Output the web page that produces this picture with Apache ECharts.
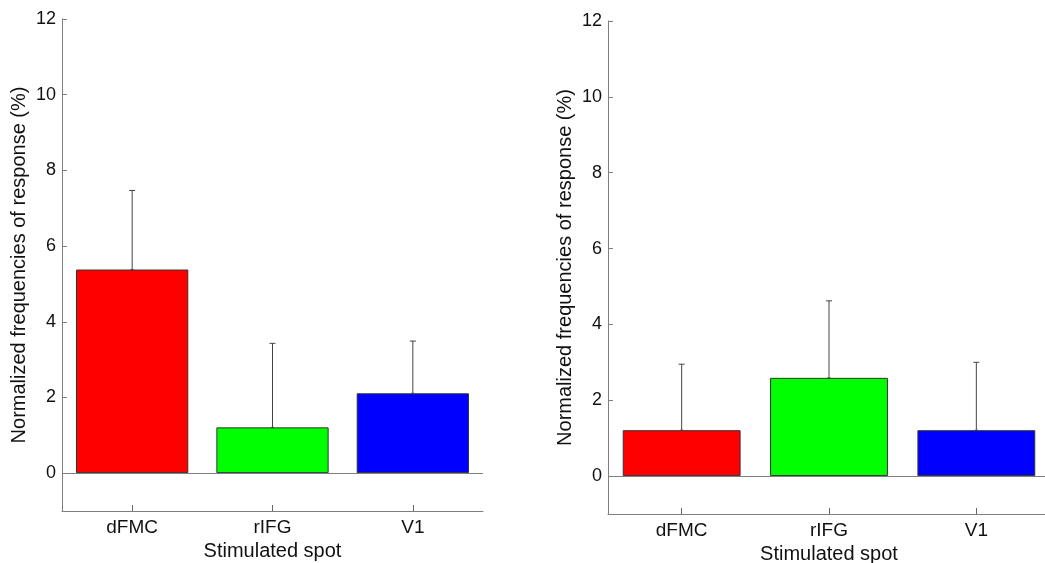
<!DOCTYPE html>
<html>
<head>
<meta charset="utf-8">
<script src="https://cdn.jsdelivr.net/npm/echarts@6/dist/echarts.min.js"></script>
<style>html,body{margin:0;padding:0;background:#fff}#c{width:1045px;height:563px}</style>
</head>
<body>
<div id="c"></div>
<script>
var categories = ['dFMC', 'rIFG', 'V1'];
var barColors = ['#ff0000', '#00ff00', '#0000ff'];
var leftMeans = [5.38, 1.21, 2.11];
var leftErrors = [2.09, 2.22, 1.38];
var rightMeans = [1.21, 2.59, 1.21];
var rightErrors = [1.74, 2.03, 1.79];
var yTicks = [0, 2, 4, 6, 8, 10, 12];
var yMin = -1, yMax = 12;
var xName = 'Stimulated spot';
var yName = 'Normalized frequencies of response (%)';

var FONT = 'Liberation Sans, Arial, sans-serif';
var AXIS_COLOR = '#7f7f7f';

function barData(means) {
  return means.map(function (v, i) {
    return { value: v, itemStyle: { color: barColors[i] } };
  });
}
function errData(means, errs) {
  return means.map(function (v, i) { return [i, v, v + errs[i]]; });
}
function errRender(params, api) {
  var i = api.value(0);
  var p0 = api.coord([i, api.value(1)]);
  var p1 = api.coord([i, api.value(2)]);
  var hw = 3;
  return {
    type: 'group',
    children: [
      { type: 'line', shape: { x1: p0[0], y1: p0[1], x2: p1[0], y2: p1[1] }, style: { stroke: '#444', lineWidth: 1 } },
      { type: 'line', shape: { x1: p1[0] - hw, y1: p1[1], x2: p1[0] + hw, y2: p1[1] }, style: { stroke: '#444', lineWidth: 1 } },
      { type: 'line', shape: { x1: p0[0] - 1.5, y1: p0[1], x2: p0[0] + 1.5, y2: p0[1] }, style: { stroke: '#444', lineWidth: 1 } }
    ]
  };
}
function xAxisCfg(gi) {
  return {
    type: 'category', gridIndex: gi, data: categories,
    name: xName, nameLocation: 'middle', nameGap: 29,
    nameTextStyle: { fontFamily: FONT, fontSize: 20, color: '#111' },
    axisLine: { onZero: false, lineStyle: { color: AXIS_COLOR, width: 1 } },
    axisTick: { show: true, inside: true, alignWithLabel: true, length: 6, lineStyle: { color: '#666', width: 1 } },
    axisLabel: { fontFamily: FONT, fontSize: 19, color: '#111', margin: 7 },
    splitLine: { show: false }
  };
}
function yAxisCfg(gi) {
  return {
    type: 'value', gridIndex: gi, min: yMin, max: yMax,
    name: yName, nameLocation: 'middle', nameGap: 33,
    nameTextStyle: { fontFamily: FONT, fontSize: 20, color: '#111' },
    axisLine: { show: true, onZero: false, lineStyle: { color: AXIS_COLOR, width: 1 } },
    axisTick: { show: true, inside: true, length: 5, customValues: yTicks, lineStyle: { color: AXIS_COLOR } },
    axisLabel: { fontFamily: FONT, fontSize: 18, color: '#111', margin: 6, customValues: yTicks },
    splitLine: { show: false }
  };
}
function barSeries(gi, means) {
  return {
    type: 'bar', xAxisIndex: gi, yAxisIndex: gi, data: barData(means),
    barWidth: '80%',
    itemStyle: { borderColor: '#333', borderWidth: 1 },
    markLine: {
      silent: true, symbol: 'none', label: { show: false },
      lineStyle: { color: AXIS_COLOR, type: 'solid', width: 1 },
      data: [{ yAxis: 0 }]
    },
    z: 2
  };
}
function errSeries(gi, means, errs) {
  return {
    type: 'custom', xAxisIndex: gi, yAxisIndex: gi,
    data: errData(means, errs), renderItem: errRender, z: 3
  };
}

var chart = echarts.init(document.getElementById('c'), null, { renderer: 'canvas' });
chart.setOption({
  animation: false,
  backgroundColor: '#fff',
  grid: [
    { left: 62, top: 19, right: 562, bottom: 52, outerBoundsMode: 'none', containLabel: false },
    { left: 608, top: 21, right: -5, bottom: 49, outerBoundsMode: 'none', containLabel: false }
  ],
  xAxis: [xAxisCfg(0), xAxisCfg(1)],
  yAxis: [yAxisCfg(0), yAxisCfg(1)],
  series: [
    barSeries(0, leftMeans), errSeries(0, leftMeans, leftErrors),
    barSeries(1, rightMeans), errSeries(1, rightMeans, rightErrors)
  ]
});
</script>
</body>
</html>
